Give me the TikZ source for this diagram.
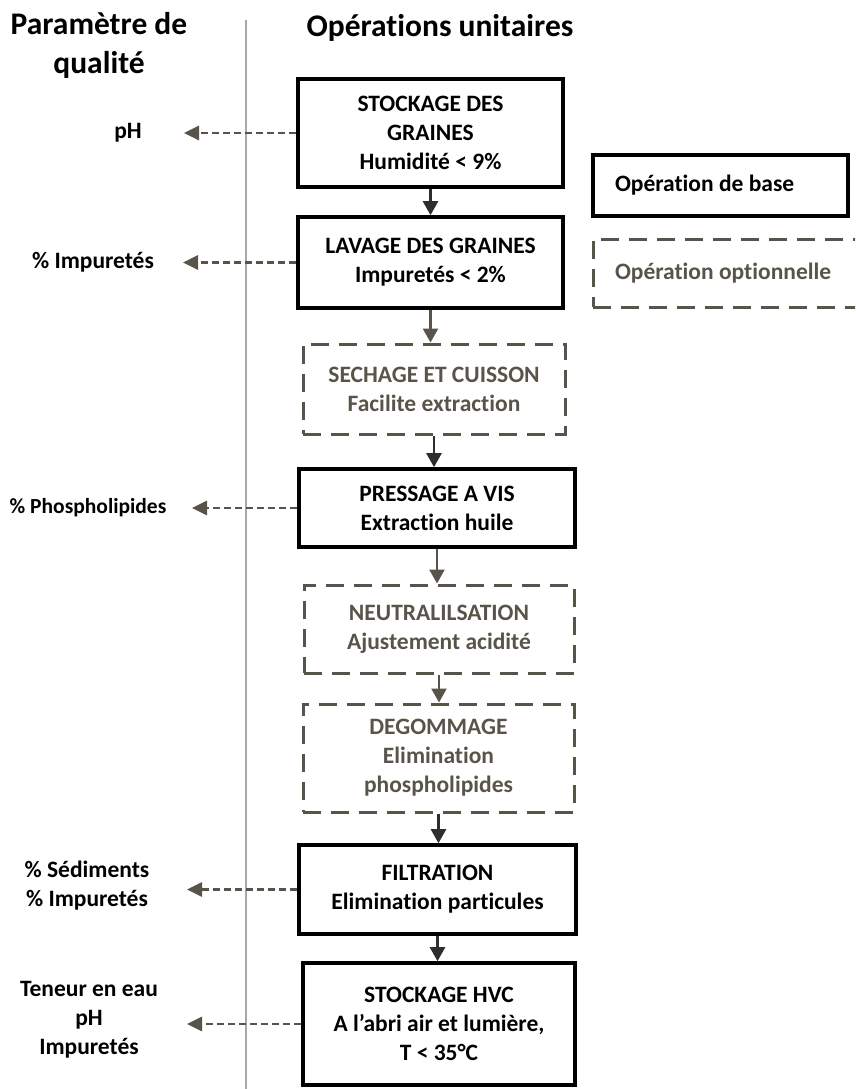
\documentclass[tikz,border=0pt]{standalone}
\usepackage{fontspec}
\setmainfont{Carlito}[Ligatures=CommonOff]
\usetikzlibrary{arrows.meta}

\definecolor{flowdark}{HTML}{2E2E2E}
\definecolor{taupe}{HTML}{595449}
\definecolor{rulegray}{HTML}{A8A8A8}

\newcommand\flowfont{\bfseries\fontsize{23.5}{29}\selectfont}
\newcommand\headfont{\bfseries\fontsize{31.5}{39}\selectfont}
\newcommand\smallparamfont{\bfseries\fontsize{21.5}{26}\selectfont}

\tikzset{
  basebox/.style={draw=black, line width=3.6pt, fill=white, inner sep=0pt,
    align=center, font=\flowfont},
  optbox/.style={draw=taupe, line width=3pt, dash pattern=on 18pt off 10pt,
    inner sep=0pt, align=center, text=taupe, font=\flowfont},
  flow/.style={draw=flowdark, line width=2.5pt,
    -{Triangle[width=15pt,length=14pt]}},
  flowopt/.style={flow, draw=taupe},
  probe/.style={draw=taupe, line width=2.8pt, dash pattern=on 7pt off 4pt,
    -{Triangle[width=14pt,length=15pt]}},
  param/.style={font=\flowfont, align=center, inner sep=0pt},
  title/.style={font=\headfont, align=center, inner sep=0pt}
}

\begin{document}
\begin{tikzpicture}[x=1pt, y=-1pt]
  \useasboundingbox (0,0) rectangle (855,1089);
  \clip (0,0) rectangle (855,1089);

  % column headings and separator
  \node[title] (hq) at (99,45) {Paramètre de\\qualité};
  \node[title] (hop) at (440,28) {Opérations unitaires};
  \draw[rulegray, line width=2.5pt] (246,20) -- (246,1095);

  % unit operations
  \node[basebox, minimum width=265pt, minimum height=108pt] (b1) at (430.5,133)
    {STOCKAGE DES\\GRAINES\\Humidité < 9\%};
  \node[basebox, minimum width=265pt, minimum height=91pt] (b2) at (430.5,262.5)
    {LAVAGE DES GRAINES\\Impuretés < 2\%};
  \node[optbox, minimum width=262pt, minimum height=90pt] (b3) at (434,389)
    {SECHAGE ET CUISSON\\Facilite extraction};
  \node[basebox, minimum width=276pt, minimum height=78pt] (b4) at (437,508)
    {PRESSAGE A VIS\\Extraction huile};
  \node[optbox, minimum width=270pt, minimum height=88pt] (b5) at (439,629)
    {NEUTRALILSATION\\Ajustement acidité};
  \node[optbox, minimum width=271pt, minimum height=108pt] (b6) at (438.5,758)
    {DEGOMMAGE\\Elimination\\phospholipides};
  \node[basebox, minimum width=277pt, minimum height=89pt] (b7) at (437.5,889.5)
    {FILTRATION\\Elimination particules};
  \node[basebox, minimum width=272pt, minimum height=122pt] (b8) at (439,1024)
    {STOCKAGE HVC\\A l’abri air et lumière,\\T < 35°C};

  % process flow
  \draw[flow]    (b1.south) -- (b1.south |- b2.north);
  \draw[flowopt] (b2.south) -- (b2.south |- b3.north);
  \draw[flow]    (b3.south) -- (b3.south |- b4.north);
  \draw[flowopt] (b4.south) -- (b4.south |- b5.north);
  \draw[flowopt] (b5.south) -- (b5.south |- b6.north);
  \draw[flow]    (b6.south) -- (b6.south |- b7.north);
  \draw[flow]    (b7.south) -- (b7.south |- b8.north);

  % quality parameters
  \node[param] (q1) at (128,133) {pH};
  \node[param] (q2) at (93,262.5) {\% Impuretés};
  \node[param, font=\smallparamfont] (q3) at (88,508) {\% Phospholipides};
  \node[param] (q4) at (87,886) {\% Sédiments\\\% Impuretés};
  \node[param] (q5) at (89,1020) {Teneur en eau\\pH\\Impuretés};

  \coordinate (e1) at (184,133);
  \coordinate (e2) at (183,262.5);
  \coordinate (e3) at (192,508);
  \coordinate (e4) at (187,889.5);
  \coordinate (e5) at (187,1024);

  \draw[probe] (b1.west) -- (e1);
  \draw[probe] (b2.west) -- (e2);
  \draw[probe] (b4.west) -- (e3);
  \draw[probe] (b7.west) -- (e4);
  \draw[probe] (b8.west) -- (e5);

  % legend
  \node[basebox, minimum width=255pt, minimum height=61pt, text width=211pt,
    align=flush left] (lg1) at (720.5,185.5) {Opération de base};
  \node[optbox, minimum width=287pt, minimum height=68pt, text width=243pt,
    align=flush left] (lg2) at (736.5,273) {Opération optionnelle};
\end{tikzpicture}
\end{document}
